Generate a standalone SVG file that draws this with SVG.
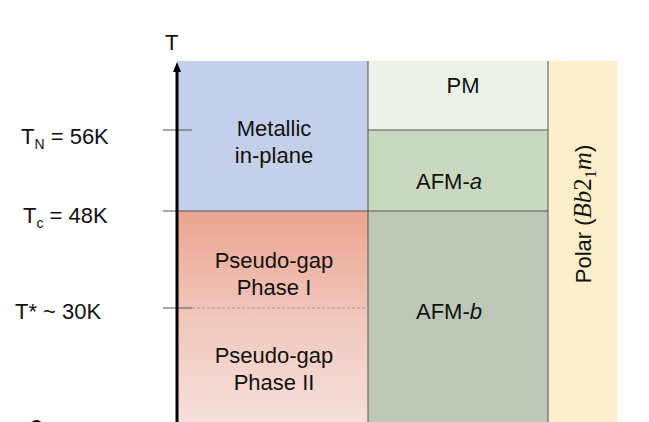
<svg xmlns="http://www.w3.org/2000/svg" width="649" height="422" viewBox="0 0 649 422">
<style>
text{font-family:"Liberation Sans",Arial,sans-serif;fill:#111;font-size:22px}
.c{text-anchor:middle}
.ln{stroke:#555;stroke-width:1}
</style>
<defs>
<linearGradient id="rg" x1="0" y1="0" x2="0" y2="1">
<stop offset="0" stop-color="#eba48f"/><stop offset="0.5" stop-color="#f1c7bb"/><stop offset="1" stop-color="#f5e0dc"/>
</linearGradient>
<marker id="ar" markerWidth="10" markerHeight="8" refX="2" refY="4" orient="auto" markerUnits="userSpaceOnUse"><path d="M0,0 L10,4 L0,8 Z" fill="#000"/></marker>
</defs>
<rect width="649" height="422" fill="#fff"/>
<g id="metallic"><rect x="177" y="61" width="191" height="150" fill="#c4d0e9"/><text class="c" x="274" y="136">Metallic</text><text class="c" x="274" y="163">in-plane</text></g>
<g id="pseudogap"><rect x="177" y="211" width="191" height="211" fill="url(#rg)"/><text class="c" x="274" y="268">Pseudo-gap</text><text class="c" x="274" y="295">Phase I</text><text class="c" x="274" y="363">Pseudo-gap</text><text class="c" x="274" y="390">Phase II</text></g>
<g id="pm"><rect x="368" y="61" width="180" height="69" fill="#ebf3e8"/><text class="c" x="463" y="93">PM</text></g>
<g id="afma"><rect x="368" y="130" width="180" height="81" fill="#c9d9c0"/><text class="c" x="449" y="189">AFM-<tspan font-style="italic">a</tspan></text></g>
<g id="afmb"><rect x="368" y="211" width="180" height="211" fill="#bec8b8"/><text class="c" x="449" y="319">AFM-<tspan font-style="italic">b</tspan></text></g>
<g id="polar"><rect x="548" y="61" width="69" height="361" fill="#fdefc9"/><text class="c" transform="translate(591,214) rotate(-90)">Polar (<tspan font-family="'Liberation Serif',serif" font-style="italic" font-size="25">Bb</tspan><tspan font-family="'Liberation Serif',serif" font-size="25">2</tspan><tspan font-family="'Liberation Serif',serif" font-size="16" dy="5">1</tspan><tspan font-family="'Liberation Serif',serif" font-style="italic" font-size="25" dy="-5">m</tspan>)</text></g>
<g id="connectors">
<line class="ln" x1="368" y1="61" x2="368" y2="422"/>
<line class="ln" x1="548" y1="61" x2="548" y2="422"/>
<line class="ln" x1="368" y1="130" x2="548" y2="130"/>
<line class="ln" x1="163" y1="211" x2="548" y2="211"/>
<line class="ln" x1="163" y1="130" x2="192" y2="130"/>
<line class="ln" x1="163" y1="308" x2="192" y2="308"/>
<line x1="192" y1="308" x2="368" y2="308" stroke="#999" stroke-dasharray="3,2"/>
<line x1="177" y1="422" x2="177" y2="70" stroke="#000" stroke-width="3" marker-end="url(#ar)"/>
</g>
<g id="labels">
<text x="165" y="50" font-size="23">T</text>
<text x="21" y="144">T<tspan font-size="14" dy="5">N</tspan><tspan dy="-5"> = 56K</tspan></text>
<text x="23" y="223">T<tspan font-size="14" dy="5">c</tspan><tspan dy="-5"> = 48K</tspan></text>
<text x="15" y="319">T* ~ 30K</text>
<text x="30" y="432" font-size="22" font-weight="bold">c</text>
</g>
</svg>
